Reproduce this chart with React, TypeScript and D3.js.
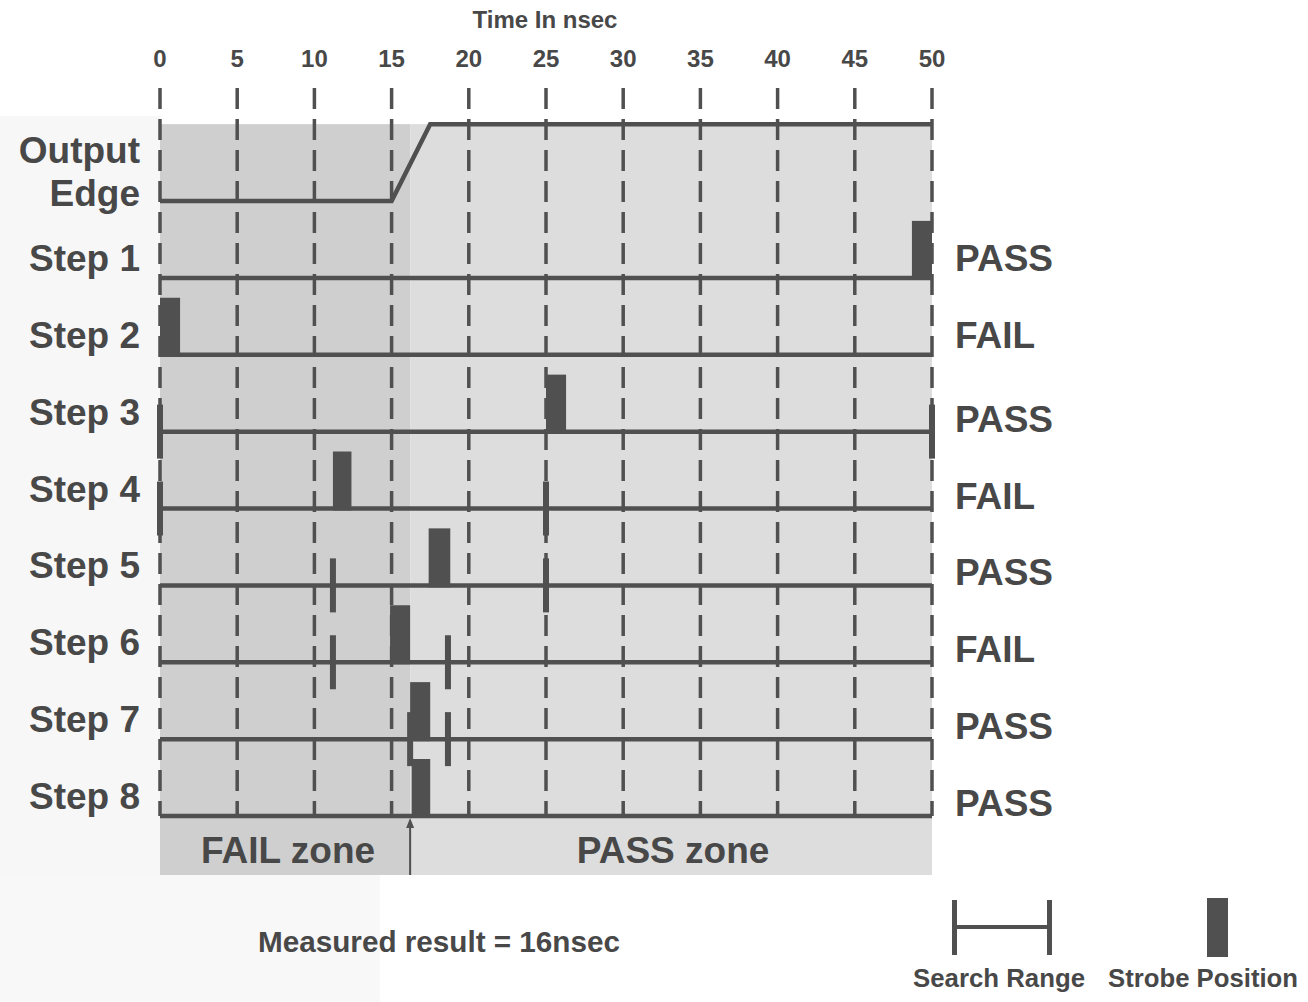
import React from "react";
import * as d3 from "d3";

// ---- data ----
const tickValues = [0, 5, 10, 15, 20, 25, 30, 35, 40, 45, 50];
const stepLabels = ["Step 1", "Step 2", "Step 3", "Step 4", "Step 5", "Step 6", "Step 7", "Step 8"];
const stepResults = ["PASS", "FAIL", "PASS", "FAIL", "PASS", "FAIL", "PASS", "PASS"];
const strobeStart = [48.7, 0, 25, 11.2, 17.4, 14.9, 16.2, 16.3];
const strobeEnd = [50, 1.3, 26.3, 12.4, 18.8, 16.2, 17.5, 17.5];
const rangeLow: (number | null)[] = [null, null, 0, 0, 11.2, 11.2, 16.2, null];
const rangeHigh: (number | null)[] = [null, null, 50, 25, 25, 18.65, 18.65, null];
const edgeTimes = [0, 15, 17.5, 50];
const edgeLevels = [0, 0, 1, 1];
const measuredResult = 16.2;
const axisTitle = "Time In nsec";
const resultText = "Measured result = 16nsec";

const W = 1308;
const H = 1002;
const INK = "#484848";
const LINE = "#505050";
const FONT = "'Liberation Sans', Arial, Helvetica, sans-serif";

export default function App() {
  const x = d3.scaleLinear().domain([0, 50]).range([160, 932]);
  const y = d3.scaleLinear().domain([0, 8]).range([201, 816]);
  const topY = y(-1);
  const bottomY = y(8) + 59;

  const edgeLine = d3
    .line<number>()
    .x((d, i) => x(edgeTimes[i]))
    .y((d) => y(-d));
  const edgePath = edgeLine(edgeLevels) || "";

  const arrowX = x(measuredResult);

  return (
    <svg
      width={W}
      height={H}
      viewBox={`0 0 ${W} ${H}`}
      style={{ position: "absolute", left: 0, top: 0, background: "#fff" }}
      fontFamily={FONT}
    >
      {/* faint paper tone */}
      <rect x={0} y={topY - 8} width={x(0)} height={bottomY - topY + 8} fill="#f7f7f7" />
      <rect x={0} y={bottomY} width={380} height={H - bottomY} fill="#f8f8f8" />

      {/* zones */}
      <rect x={x(0)} y={topY} width={x(measuredResult) - x(0)} height={bottomY - topY} fill="#cfcfcf" />
      <rect x={x(measuredResult)} y={topY} width={x(50) - x(measuredResult)} height={bottomY - topY} fill="#dddddd" />

      {/* axis title and ticks */}
      <text x={545} y={28} textAnchor="middle" fontSize={24} fontWeight="bold" fill={INK}>
        {axisTitle}
      </text>
      {tickValues.map((t) => (
        <text key={"tl" + t} x={x(t)} y={67} textAnchor="middle" fontSize={24} fontWeight="bold" fill={INK}>
          {t}
        </text>
      ))}
      {tickValues.map((t) => (
        <line
          key={"dl" + t}
          x1={x(t)}
          x2={x(t)}
          y1={88}
          y2={y(8)}
          stroke={LINE}
          strokeWidth={3.5}
          strokeDasharray="21 10"
        />
      ))}

      {/* output edge */}
      <text x={140} y={163} textAnchor="end" fontSize={37} fontWeight="bold" fill={INK}>
        Output
      </text>
      <text x={140} y={206} textAnchor="end" fontSize={37} fontWeight="bold" fill={INK}>
        Edge
      </text>
      <path d={edgePath} fill="none" stroke={LINE} strokeWidth={4.5} strokeLinejoin="miter" />

      {/* steps */}
      {stepLabels.map((label, i) => {
        const row = i + 1;
        const by = y(row);
        const lo = rangeLow[i];
        const hi = rangeHigh[i];
        return (
          <g key={label}>
            <line x1={x(0)} x2={x(50)} y1={by} y2={by} stroke={LINE} strokeWidth={4.5} />
            {lo !== null && (
              <rect x={x(lo) - 3} y={by - 27} width={6} height={54} fill={LINE} />
            )}
            {hi !== null && (
              <rect x={x(hi) - 3} y={by - 27} width={6} height={54} fill={LINE} />
            )}
            <rect
              x={x(strobeStart[i])}
              y={by - 57}
              width={x(strobeEnd[i]) - x(strobeStart[i])}
              height={59}
              fill={LINE}
            />
            <text x={140} y={by - 7} textAnchor="end" fontSize={37} fontWeight="bold" fill={INK}>
              {label}
            </text>
            <text
              x={955}
              y={i < 2 ? by - 7 : by}
              textAnchor="start"
              fontSize={37}
              fontWeight="bold"
              fill={INK}
            >
              {stepResults[i]}
            </text>
          </g>
        );
      })}

      {/* zone labels */}
      <text x={(x(0) + x(measuredResult)) / 2 + 3} y={863} textAnchor="middle" fontSize={37} fontWeight="bold" fill={INK}>
        FAIL zone
      </text>
      <text x={(x(measuredResult) + x(50)) / 2 + 2} y={863} textAnchor="middle" fontSize={37} fontWeight="bold" fill={INK}>
        PASS zone
      </text>

      {/* measured result arrow */}
      <line x1={arrowX} x2={arrowX} y1={bottomY} y2={y(8) + 10} stroke={LINE} strokeWidth={2} />
      <path
        d={`M${arrowX},${y(8) + 2} L${arrowX - 4},${y(8) + 12} L${arrowX + 4},${y(8) + 12} Z`}
        fill={LINE}
      />
      <text x={258} y={952} textAnchor="start" fontSize={29} fontWeight="bold" fill={INK} textLength={362} lengthAdjust="spacingAndGlyphs">
        {resultText}
      </text>

      {/* legend */}
      <rect x={952} y={900} width={5} height={55} fill={LINE} />
      <rect x={1047} y={900} width={5} height={55} fill={LINE} />
      <line x1={955} x2={1050} y1={927} y2={927} stroke={LINE} strokeWidth={4} />
      <rect x={1207} y={898} width={21} height={59} fill={LINE} />
      <text x={999} y={987} textAnchor="middle" fontSize={25} fontWeight="bold" fill={INK} textLength={172} lengthAdjust="spacingAndGlyphs">
        Search Range
      </text>
      <text x={1203} y={987} textAnchor="middle" fontSize={25} fontWeight="bold" fill={INK} textLength={190} lengthAdjust="spacingAndGlyphs">
        Strobe Position
      </text>
    </svg>
  );
}
